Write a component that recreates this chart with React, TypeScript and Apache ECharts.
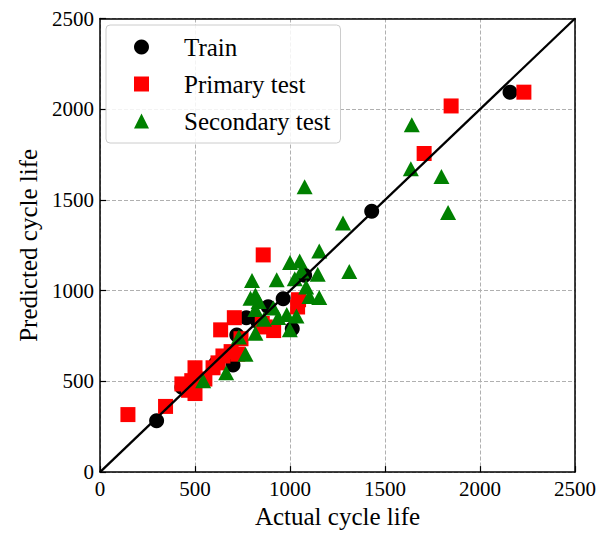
import React, { useEffect, useRef } from "react";
import * as echarts from "echarts";

const trainPoints: [number, number][] = [
  [2158, 2094], [1430, 1438], [298, 283], [964, 955], [1077, 1085], [1012, 790],
  [885, 912], [770, 851], [720, 755], [700, 590], [610, 600], [431, 468], [830, 830],
];

const primaryPoints: [number, number][] = [
  [2231, 2094], [1848, 2018], [1706, 1756], [859, 1197], [1045, 950], [1040, 910],
  [707, 851], [635, 784], [914, 780], [854, 819], [742, 735], [690, 664], [725, 650],
  [621, 602], [595, 575], [500, 575], [500, 433], [431, 486], [483, 504], [552, 513],
  [345, 362], [147, 317], [466, 451], [647, 640], [870, 800],
];

const secondaryPoints: [number, number][] = [
  [1641, 1915], [1636, 1672], [1797, 1629], [1832, 1431], [1077, 1573], [1279, 1373],
  [1312, 1106], [1154, 1218], [1051, 1163], [1000, 1155], [1146, 1091], [930, 1060],
  [800, 1056], [1025, 1065], [1085, 1020], [818, 976], [792, 958], [1154, 962],
  [1102, 968], [835, 940], [912, 904], [1034, 860], [938, 852], [818, 896], [731, 744],
  [818, 765], [999, 785], [766, 650], [664, 548], [543, 504], [863, 843], [983, 868],
  [1061, 1109],
];

const identityLine: [number, number][] = [[0, 0], [2500, 2500]];
const axisTicks = [0, 500, 1000, 1500, 2000, 2500];

const FONT = "'Liberation Serif', 'Times New Roman', 'DejaVu Serif', serif";

export default function App() {
  const ref = useRef<HTMLDivElement>(null);
  useEffect(() => {
    if (!ref.current) return;
    const chart = echarts.init(ref.current, null, { renderer: "svg" });
    const axisCommon = {
      min: axisTicks[0],
      max: axisTicks[axisTicks.length - 1],
      interval: 500,
      axisLine: { show: true, onZero: false, lineStyle: { color: "#000", width: 1.5 } },
      axisTick: { show: true, inside: true, length: 6, lineStyle: { color: "#000", width: 1.2 } },
      axisLabel: {
        color: "#000",
        fontFamily: FONT,
        fontSize: 21,
        margin: 6,
        formatter: (v: number) => String(v),
      },
      splitLine: { show: true, lineStyle: { color: "#b0b0b0", type: "dashed", width: 1 } },
      nameTextStyle: { color: "#000", fontFamily: FONT, fontSize: 25 },
    };
    const borderAxis = {
      min: 0,
      max: 2500,
      z: 5,
      axisLine: { show: true, onZero: false, lineStyle: { color: "#000", width: 1.5 } },
      axisTick: { show: false },
      axisLabel: { show: false },
      splitLine: { show: false },
    };
    chart.setOption({
      animation: false,
      backgroundColor: "#fff",
      textStyle: { fontFamily: FONT },
      grid: { left: 84, top: 4.5, width: 483, height: 469.5 },
      legend: {
        data: ["Train", "Primary test", "Secondary test"],
        orient: "vertical",
        left: 98,
        top: 17,
        padding: [8, 10, 8, 28],
        itemGap: 9,
        itemWidth: 15,
        itemHeight: 15,
        backgroundColor: "rgba(255,255,255,0.85)",
        borderColor: "#cccccc",
        borderWidth: 1,
        borderRadius: 4,
        textStyle: {
          color: "#000",
          fontFamily: FONT,
          fontSize: 25,
          lineHeight: 28,
          padding: [0, 0, 0, 30],
        },
      },
      xAxis: [
        {
          ...axisCommon,
          type: "value",
          name: "Actual cycle life",
          nameLocation: "middle",
          nameGap: 31,
        },
        { ...borderAxis, type: "value", position: "top" },
      ],
      yAxis: [
        {
          ...axisCommon,
          type: "value",
          name: "Predicted cycle life",
          nameLocation: "middle",
          nameGap: 59,
        },
        { ...borderAxis, type: "value", position: "right" },
      ],
      series: [
        {
          name: "Train",
          type: "scatter",
          data: trainPoints,
          symbol: "circle",
          symbolSize: 15,
          itemStyle: { color: "#000", opacity: 1 },
        },
        {
          name: "Primary test",
          type: "scatter",
          data: primaryPoints,
          symbol: "rect",
          symbolSize: 15,
          itemStyle: { color: "#ff0000", opacity: 1 },
        },
        {
          name: "Secondary test",
          type: "scatter",
          data: secondaryPoints,
          symbol: "triangle",
          symbolSize: [16, 15],
          itemStyle: { color: "#008000", opacity: 1 },
        },
        {
          name: "identity",
          type: "line",
          data: identityLine,
          showSymbol: false,
          symbol: "none",
          lineStyle: { color: "#000", width: 2.3 },
          z: 4,
        },
      ],
    });
    return () => chart.dispose();
  }, []);
  return <div ref={ref} style={{ width: 600, height: 526 }} />;
}
